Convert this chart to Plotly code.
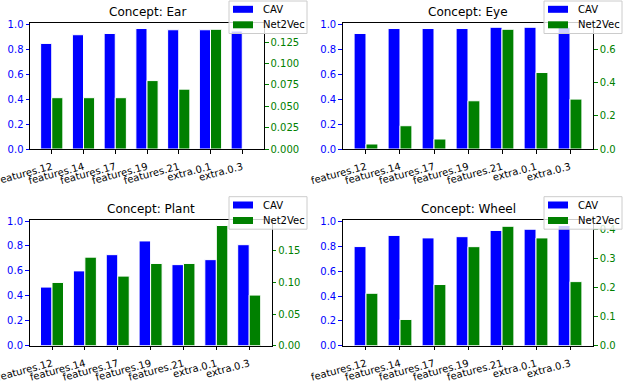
import plotly.graph_objects as go

layers = ["features.12", "features.14", "features.17", "features.19",
          "features.21", "extra.0.1", "extra.0.3"]

ear_cav = [0.85, 0.92, 0.93, 0.97, 0.96, 0.96, 0.95]
ear_net2vec = [0.06, 0.06, 0.06, 0.08, 0.07, 0.14, 0.0]
eye_cav = [0.93, 0.97, 0.97, 0.97, 0.98, 0.98, 0.98]
eye_net2vec = [0.03, 0.14, 0.06, 0.29, 0.72, 0.46, 0.30]
plant_cav = [0.47, 0.60, 0.73, 0.84, 0.65, 0.69, 0.81]
plant_net2vec = [0.10, 0.14, 0.11, 0.13, 0.13, 0.19, 0.08]
wheel_cav = [0.80, 0.89, 0.87, 0.88, 0.93, 0.94, 0.97]
wheel_net2vec = [0.18, 0.09, 0.21, 0.34, 0.41, 0.37, 0.22]

W, H = 623, 384
FONT = "DejaVu Sans"
SERIES = [("CAV", "blue"), ("Net2Vec", "green")]

# (title, cav, net2vec, right dtick, right format, x px range, y px range, legend left/top px)
panels = [
    ("Ear", ear_cav, ear_net2vec, 0.025, ".3f", (30, 264), (23.3, 149), (229, 1)),
    ("Eye", eye_cav, eye_net2vec, 0.2, ".1f", (342.7, 593.3), (23.3, 149), (544, 1)),
    ("Plant", plant_cav, plant_net2vec, 0.05, ".2f", (29.5, 271.7), (219.5, 345.7), (229, 196.7)),
    ("Wheel", wheel_cav, wheel_net2vec, 0.1, ".1f", (342.7, 593.3), (220.3, 345.7), (544, 196.7)),
]


def px(x, y):
    """pixel position -> paper fractions"""
    return x / W, 1 - y / H


fig = go.Figure()
layout = dict(
    width=W, height=H, margin=dict(l=0, r=0, t=0, b=0, autoexpand=False),
    paper_bgcolor="white", plot_bgcolor="white",
    font=dict(family=FONT, size=10, color="black"),
    showlegend=False, annotations=[], shapes=[],
)

for i, (name, cav, net, dtick, fmt, xpx, ypx, lpx) in enumerate(panels, start=1):
    xa = "x" if i == 1 else f"x{i}"
    yl = "y" if i == 1 else f"y{2 * i - 1}"
    yr = f"y{2 * i}"
    xdom = [xpx[0] / W, xpx[1] / W]
    ydom = [1 - ypx[1] / H, 1 - ypx[0] / H]

    fig.add_trace(go.Bar(
        x=layers, y=cav, name="CAV", width=0.35, offset=-0.35,
        marker=dict(color="blue", line=dict(color="white", width=1)),
        xaxis=xa, yaxis=yl))
    fig.add_trace(go.Bar(
        x=layers, y=net, name="Net2Vec", width=0.35, offset=0,
        marker=dict(color="green", line=dict(color="white", width=1)),
        xaxis=xa, yaxis=yr))

    layout["xaxis" if i == 1 else f"xaxis{i}"] = dict(
        domain=xdom, anchor=yl, type="category", range=[-0.685, 6.685],
        showline=True, mirror=True, linecolor="black", linewidth=1,
        ticks="outside", ticklen=3.5, tickwidth=1, tickcolor="black",
        tickangle=-15, ticklabelstandoff=4, tickfont=dict(size=10, color="black"),
        showgrid=False, zeroline=False, automargin=False)
    layout["yaxis" if i == 1 else f"yaxis{2 * i - 1}"] = dict(
        domain=ydom, anchor=xa, range=[0, 1.012], dtick=0.2, tickformat=".1f",
        showline=True, linecolor="black", linewidth=1,
        ticks="outside", ticklen=3.5, tickwidth=1, tickcolor="blue",
        tickfont=dict(size=10, color="blue"), showgrid=False, zeroline=False,
        automargin=False)
    layout[f"yaxis{2 * i}"] = dict(
        overlaying=yl, side="right", anchor=xa,
        range=[0, max(net) * 1.05], dtick=dtick, tickformat=fmt,
        showline=True, linecolor="black", linewidth=1,
        ticks="outside", ticklen=3.5, tickwidth=1, tickcolor="green",
        tickfont=dict(size=10, color="green"), showgrid=False, zeroline=False,
        automargin=False)
    layout["annotations"].append(dict(
        text=f"Concept: {name}", xref="paper", yref="paper",
        x=(xdom[0] + xdom[1]) / 2, y=ydom[1], xanchor="center", yanchor="bottom",
        yshift=2, showarrow=False, font=dict(size=12, color="black")))

    # matplotlib-like legend box in the top right corner of the panel
    lx, ly = lpx
    x0, y0 = px(lx, ly)
    x1, y1 = px(lx + 78, ly + 32.5)
    layout["shapes"].append(dict(
        type="rect", xref="paper", yref="paper", x0=x0, x1=x1, y0=y1, y1=y0,
        fillcolor="rgba(255,255,255,0.8)", line=dict(color="#cccccc", width=1),
        layer="above"))
    for k, (label, color) in enumerate(SERIES):
        cy = ly + 8.3 + k * 15.5
        a0, b0 = px(lx + 4, cy - 3.5)
        a1, b1 = px(lx + 24, cy + 3.5)
        layout["shapes"].append(dict(
            type="rect", xref="paper", yref="paper", x0=a0, x1=a1, y0=b1, y1=b0,
            fillcolor=color, line=dict(width=0), layer="above"))
        tx, ty = px(lx + 32, cy)
        layout["annotations"].append(dict(
            text=label, xref="paper", yref="paper", x=tx, y=ty,
            xanchor="left", yanchor="middle", showarrow=False,
            font=dict(size=10, color="black")))

fig.update_layout(**layout)
# the page body has an 8px default margin; drop it so the figure sits at 0,0
fig.write_html("out.html", config={"displayModeBar": False},
               post_script="document.body.style.margin='0';")
